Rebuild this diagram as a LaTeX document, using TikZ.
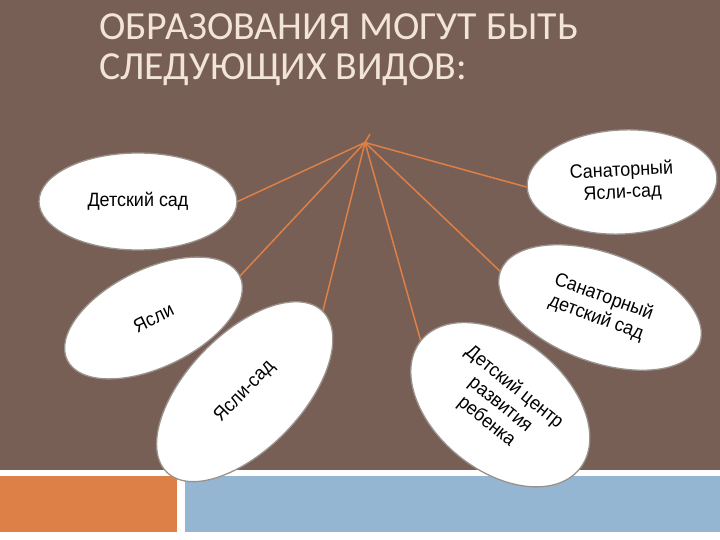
\documentclass[tikz,border=0pt]{standalone}
\usepackage{fontspec}
\setmainfont{Liberation Sans}
\newfontfamily\titlefont{Carlito}
\newfontfamily\ellfont[FakeStretch=0.93]{Liberation Sans}
\usetikzlibrary{shapes.geometric}
\definecolor{bgbrown}{HTML}{775F55}
\definecolor{accorange}{HTML}{DD8047}
\definecolor{accblue}{HTML}{94B6D2}
\definecolor{titlecol}{HTML}{F2E4D8}
\definecolor{ellline}{HTML}{9A928C}
\tikzset{
  ell/.style={ellipse, fill=white, draw=ellline, line width=1.3pt, inner sep=0pt,
    align=center, font=\ellfont\fontsize{19.3}{22}\selectfont, text=black},
  conn/.style={draw=accorange, line width=1.5pt},
  titletext/.style={anchor=base west, inner sep=0pt, text=titlecol,
    font=\titlefont\fontsize{39.8}{40}\selectfont}
}
\begin{document}
\begin{tikzpicture}[x=1pt,y=-1pt]
\useasboundingbox (0,0) rectangle (720,540);
% background and bands
\fill[white] (0,0) rectangle (720,540);
\fill[bgbrown] (0,0) rectangle (720,470);
\fill[accorange] (0,476) rectangle (177,532);
\fill[accblue] (185,476) rectangle (720,532);
% title
\node[titletext] (t1) at (99,40) {ОБРАЗОВАНИЯ МОГУТ БЫТЬ};
\node[titletext] (t2) at (99,80) {СЛЕДУЮЩИХ ВИДОВ:};
% hub
\coordinate (hub) at (365,142.5);
\coordinate (tip) at (370,134);
% ellipses
\node[ell, minimum width=198pt, minimum height=97pt] (ds) at (138,201.5) {Детский сад};
\node[ell, minimum width=190pt, minimum height=104pt, rotate=3] (sys) at (622,182) {Санаторный\\Ясли-сад};
\node[ell, minimum width=192pt, minimum height=98pt, rotate=26] (ya) at (153.5,318) {Ясли};
\node[ell, minimum width=224pt, minimum height=115pt, rotate=46] (yas) at (244.7,391.7) {Ясли-сад};
\node[ell, minimum width=212pt, minimum height=109pt, rotate=-20] (sds) at (600,307.5) {Санаторный\\детский сад};
\node[ell, minimum width=204pt, minimum height=132pt, rotate=-39] (dc) at (500.3,404.7) {Детский центр\\развития\\ребенка};
% connectors
\draw[conn] (hub) -- (tip);
\draw[conn] (hub) -- (ds.east);
\draw[conn] (hub) -- (sys.west);
\draw[conn] (hub) -- (ya.east);
\draw[conn] (hub) -- (yas.east);
\draw[conn] (hub) -- (dc.west);
\draw[conn] (hub) -- (sds.west);
\end{tikzpicture}
\end{document}
